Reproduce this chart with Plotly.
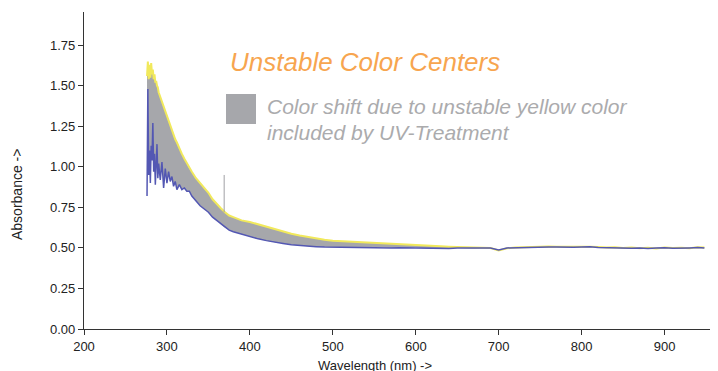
import plotly.graph_objects as go

# Wavelength grid (nm)
wavelength = [276, 277, 278, 279, 280, 281, 282, 283, 284, 285, 286, 287, 288, 289, 290,
              292, 294, 296, 298, 300, 302, 304, 306, 308, 310, 312,
              315, 318, 321, 324, 327, 330,
              335, 340, 345, 350, 355, 360, 365, 370, 375, 380,
              390, 400, 410, 420, 430, 440, 450, 460, 470, 480, 490, 500,
              510, 520, 530, 540, 550, 560, 570, 580, 590, 600, 610, 620, 630, 640, 650,
              660, 670, 680, 690, 700, 710, 720, 730, 740, 750, 760, 770, 780, 790, 800,
              810, 820, 830, 840, 850, 860, 870, 880, 890, 900, 910, 920, 930, 940, 948]

# Absorbance after UV treatment (yellow)
absorb_uv = [1.56, 1.65, 1.54, 1.63, 1.55, 1.64, 1.57, 1.60, 1.54, 1.57, 1.52, 1.53, 1.50, 1.49, 1.46,
             1.43, 1.40, 1.37, 1.34, 1.31, 1.28, 1.26, 1.23, 1.20, 1.17, 1.15,
             1.11, 1.08, 1.05, 1.02, 0.99, 0.97,
             0.93, 0.90, 0.87, 0.84, 0.80, 0.77, 0.745, 0.72, 0.70, 0.69,
             0.67, 0.66, 0.645, 0.63, 0.615, 0.60, 0.588, 0.577, 0.567, 0.558, 0.55, 0.545,
             0.542, 0.540, 0.537, 0.534, 0.531, 0.528, 0.525, 0.523, 0.520, 0.517, 0.514, 0.512, 0.510, 0.508, 0.506,
             0.505, 0.503, 0.502, 0.500, 0.485, 0.498, 0.503, 0.505, 0.508, 0.510, 0.509, 0.507, 0.508, 0.506, 0.509,
             0.508, 0.505, 0.502, 0.504, 0.500, 0.503, 0.498, 0.501, 0.497, 0.503, 0.499, 0.501, 0.498, 0.504, 0.502]

# Absorbance of reference / stable state (blue)
absorb_ref = [0.82, 1.48, 0.95, 1.10, 0.90, 1.13, 1.04, 1.27, 0.97, 1.08, 0.89, 1.05, 1.14, 0.93, 1.02,
              0.92, 1.03, 0.87, 0.99, 0.90, 0.97, 0.91, 0.94, 0.88, 0.91, 0.86,
              0.89, 0.86, 0.87, 0.85, 0.85, 0.82,
              0.79, 0.76, 0.74, 0.72, 0.69, 0.67, 0.645, 0.625, 0.61, 0.60,
              0.585, 0.57, 0.556, 0.545, 0.535, 0.528, 0.52, 0.515, 0.511, 0.508, 0.505, 0.504,
              0.503, 0.503, 0.502, 0.502, 0.501, 0.502, 0.500, 0.501, 0.500, 0.502, 0.498, 0.497, 0.498, 0.497, 0.499,
              0.498, 0.497, 0.499, 0.500, 0.488, 0.500, 0.502, 0.501, 0.505, 0.507, 0.506, 0.505, 0.503, 0.504, 0.506,
              0.507, 0.503, 0.501, 0.502, 0.499, 0.498, 0.500, 0.497, 0.499, 0.501, 0.498, 0.497, 0.500, 0.502, 0.500]

# Small spike artefact
spike_x = [369, 369]
spike_y = [0.72, 0.95]

x_ticks = [200, 300, 400, 500, 600, 700, 800, 900]
y_ticks = [0.00, 0.25, 0.50, 0.75, 1.00, 1.25, 1.50, 1.75]

FONT = "Arial, Liberation Sans, sans-serif"

# Plot area in page pixels (page has an 8px body offset)
PL, PR, PT, PB = 84, 716, 12, 329
PW, PH = PR - PL, PB - PT


def px(xp):
    return (xp - PL) / PW


def py(yp):
    return (PB - yp) / PH


fig = go.Figure()

# Gray band between the two spectra
fig.add_trace(go.Scatter(
    x=wavelength + wavelength[::-1],
    y=absorb_uv + absorb_ref[::-1],
    fill="toself", fillcolor="#a6a7ab", mode="none",
    hoverinfo="skip", showlegend=False))

fig.add_trace(go.Scatter(x=wavelength, y=absorb_uv, mode="lines",
                         line=dict(color="#f1e95c", width=2), showlegend=False))
fig.add_trace(go.Scatter(x=wavelength, y=absorb_ref, mode="lines",
                         line=dict(color="#5357b3", width=1.5), showlegend=False))
fig.add_trace(go.Scatter(x=spike_x, y=spike_y, mode="lines",
                         line=dict(color="#a0a0a4", width=1), showlegend=False))

axis_common = dict(showgrid=False, zeroline=False, showline=True, linecolor="#333333",
                   linewidth=1.2, ticks="outside", ticklen=5, tickcolor="#333333",
                   tickfont=dict(family=FONT, size=13, color="#222222"))

fig.update_xaxes(range=[200, 962], tickvals=x_ticks,
                 ticktext=[str(v) for v in x_ticks], **axis_common)
fig.update_yaxes(range=[0, 1.955], tickvals=y_ticks,
                 ticktext=[f"{v:.2f}" for v in y_ticks], **axis_common)

fig.update_layout(
    width=718, height=371,
    margin=dict(l=PL - 8, r=718 - (PR - 8), t=PT - 8, b=371 - (PB - 8)),
    plot_bgcolor="white", paper_bgcolor="white",
    font=dict(family=FONT),
    shapes=[dict(type="rect", xref="paper", yref="paper",
                 x0=px(226), x1=px(256), y0=py(124), y1=py(94),
                 fillcolor="#a6a7ab", line=dict(width=0))],
    annotations=[
        dict(text="<i>Unstable Color Centers</i>", xref="paper", yref="paper",
             x=px(228), y=py(62), xanchor="left", yanchor="middle",
             showarrow=False, font=dict(family=FONT, size=26, color="#f7a54f")),
        dict(text="<i>Color shift due to unstable yellow color</i>", xref="paper", yref="paper",
             x=px(265), y=py(106), xanchor="left", yanchor="middle",
             showarrow=False, font=dict(family=FONT, size=21, color="#ababad")),
        dict(text="<i>included by UV-Treatment</i>", xref="paper", yref="paper",
             x=px(265), y=py(132), xanchor="left", yanchor="middle",
             showarrow=False, font=dict(family=FONT, size=21, color="#ababad")),
        dict(text="Wavelength (nm) ->", xref="paper", yref="paper",
             x=px(375), y=py(365), xanchor="center", yanchor="middle",
             showarrow=False, font=dict(family=FONT, size=13, color="#222222")),
        dict(text="Absorbance ->", xref="paper", yref="paper", textangle=-90,
             x=px(17), y=py(195), xanchor="center", yanchor="middle",
             showarrow=False, font=dict(family=FONT, size=14, color="#222222")),
    ],
)

fig.write_html("out.html")
